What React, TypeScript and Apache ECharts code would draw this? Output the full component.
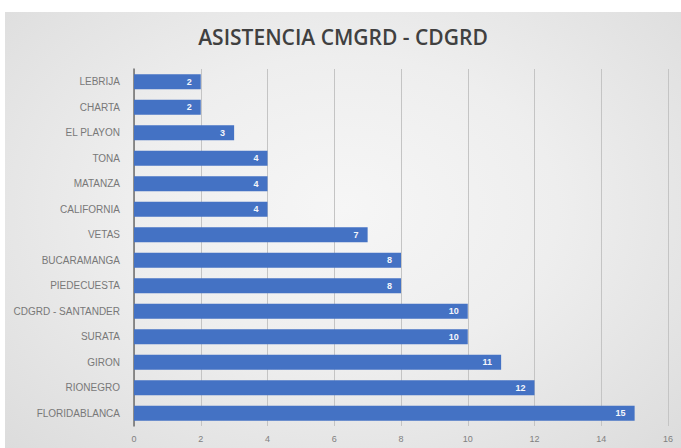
import React, { useEffect, useRef } from "react";
import * as echarts from "echarts";

const categories = [
  "LEBRIJA",
  "CHARTA",
  "EL PLAYON",
  "TONA",
  "MATANZA",
  "CALIFORNIA",
  "VETAS",
  "BUCARAMANGA",
  "PIEDECUESTA",
  "CDGRD - SANTANDER",
  "SURATA",
  "GIRON",
  "RIONEGRO",
  "FLORIDABLANCA",
];
const values = [2, 2, 3, 4, 4, 4, 7, 8, 8, 10, 10, 11, 12, 15];
const titleText = "ASISTENCIA CMGRD - CDGRD";

export default function App() {
  const ref = useRef<HTMLDivElement>(null);
  useEffect(() => {
    if (!ref.current) return;
    const chart = echarts.init(ref.current, undefined, { renderer: "svg" });
    chart.setOption({
      animation: false,
      backgroundColor: "transparent",
      title: {
        text: titleText,
        left: "center",
        top: 14,
        padding: 0,
        textStyle: {
          fontFamily: "Open Sans",
          fontWeight: 600,
          fontSize: 21,
          color: "#404040",
        },
      },
      grid: { left: 129, right: 13, top: 57, bottom: 22, containLabel: false },
      xAxis: {
        type: "value",
        min: 0,
        max: 16,
        interval: 2,
        axisLine: { show: false },
        axisTick: { show: false },
        splitLine: { show: true, lineStyle: { color: "#c4c4c4", width: 1 } },
        axisLabel: {
          color: "#808080",
          fontFamily: "Liberation Sans",
          fontSize: 9,
          margin: 8,
        },
      },
      yAxis: {
        type: "category",
        data: categories,
        inverse: true,
        axisLine: { show: true, lineStyle: { color: "#6f6f6f", width: 1.5 } },
        axisTick: { show: false },
        axisLabel: {
          color: "#787878",
          fontFamily: "Liberation Sans",
          fontSize: 10,
          margin: 14,
        },
      },
      series: [
        {
          type: "bar",
          data: values,
          barWidth: 15,
          itemStyle: { color: "#4472C4" },
          label: {
            show: true,
            position: "insideRight",
            distance: 9,
            color: "#f4f6fb",
            fontFamily: "Liberation Sans",
            fontWeight: "bold",
            fontSize: 9,
          },
        },
      ],
    });
    return () => chart.dispose();
  }, []);
  return (
    <div
      style={{
        position: "fixed",
        left: 0,
        top: 0,
        width: 681,
        height: 448,
        background: "#ffffff",
      }}
    >
      <div
        ref={ref}
        style={{
          position: "absolute",
          left: 5,
          top: 12,
          width: 676,
          height: 436,
          background:
            "radial-gradient(ellipse at 50% 45%, #f6f6f6 0%, #eeeeee 45%, #dcdcdc 100%)",
        }}
      />
    </div>
  );
}
